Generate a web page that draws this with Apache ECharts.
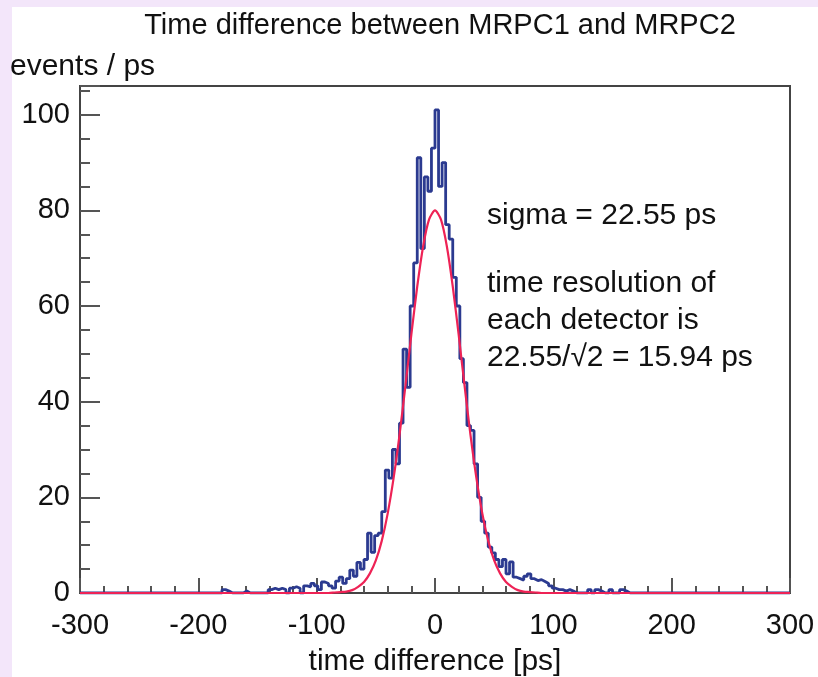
<!DOCTYPE html>
<html>
<head>
<meta charset="utf-8">
<script src="https://cdn.jsdelivr.net/npm/echarts@6/dist/echarts.min.js"></script>
<style>
  html, body { margin: 0; padding: 0; background: #f3e6fa; }
  #chart { width: 818px; height: 677px; }
</style>
</head>
<body>
<div id="chart"></div>
<script>
// histogram: 3 ps bins from -180 to 180 ps, events / ps
const binStart = -180
const binWidth = 3
const counts = [
  0.7, 0.4, 0, 0, 0, 0, 0.4, 0, 0, 0,
  0, 0, 0, 0.7, 1.0, 0.7, 1.0, 0.7, 0, 1.0,
  1.3, 1.0, 0, 1.5, 1.3, 2.0, 1.5, 0.7, 2.3, 2.0,
  1.5, 1.0, 2.5, 3.3, 2.0, 3.0, 4.8, 3.5, 6.4, 5.0,
  7.0, 12.5, 8.5, 12.0, 12.5, 17.0, 25.7, 24.0, 30.0, 27.0,
  35.5, 51.0, 43.0, 60.0, 69.0, 91.0, 72.0, 87.0, 84.0, 93.0,
  101.0, 85.0, 90.0, 77.0, 74.0, 66.0, 60.0, 49.0, 44.0, 35.0,
  34.0, 27.0, 20.0, 15.0, 12.5, 9.6, 8.4, 7.0, 5.5, 7.0,
  4.0, 6.5, 3.3, 3.0, 2.7, 3.5, 4.0, 3.0, 2.6, 2.8,
  2.4, 2.0, 1.5, 1.0, 0.7, 0.7, 0.4, 0.7, 0.4, 0,
  0, 0, 0, 0.7, 0, 0.7, 0.4, 0, 0, 0.7,
  0, 0, 0.7, 0.4, 0, 0, 0, 0, 0, 0
]

// gaussian fit (ps, events / ps)
const fitX = [-300, -90, -85, -80, -75, -70, -65, -60, -55, -50, -45, -40, -35, -30, -25, -20, -15, -10, -5,
  0, 5, 10, 15, 20, 25, 30, 35, 40, 45, 50, 55, 60, 65, 70, 75, 80, 85, 90, 300]
const fitY = [0, 0, 0.1, 0.2, 0.3, 0.6, 1.3, 2.3, 4.1, 6.8, 10.9, 16.6, 24.0, 33.0, 43.3, 54.0, 64.1, 72.5, 78.1,
  80.0, 78.1, 72.5, 64.1, 54.0, 43.3, 33.0, 24.0, 16.6, 10.9, 6.8, 4.1, 2.3, 1.3, 0.6, 0.3, 0.2, 0.1, 0, 0]

const xTicks = [-300, 300, 100]
const yTicks = [0, 106, 20]
const notes = ['sigma = 22.55 ps', 'time resolution of', 'each detector is', '22.55/\u221a2 = 15.94 ps']

const FONT = '"Liberation Sans", Arial, Helvetica, sans-serif'

let hist = [[-300, 0]]
counts.forEach((c, i) => hist.push([binStart + i * binWidth, c]))
hist.push([binStart + counts.length * binWidth, 0])
hist.push([300, 0])

const fit = fitX.map((x, i) => [x, fitY[i]])

const chart = echarts.init(document.getElementById('chart'))
chart.setOption({
  backgroundColor: '#f3e6fa',
  animation: false,
  title: {
    text: 'Time difference between MRPC1 and MRPC2',
    left: 435,
    top: 6,
    textAlign: 'center',
    textStyle: { fontFamily: FONT, fontSize: 29, fontWeight: 'normal', color: '#111' }
  },
  graphic: [
    { type: 'rect', z: -10, shape: { x: 12, y: 7, width: 806, height: 670 }, style: { fill: '#ffffff' } },
    { type: 'text', x: 10, y: 67, style: { text: 'events / ps', font: '30px ' + FONT, fill: '#111', verticalAlign: 'middle' } },
    { type: 'text', x: 487, y: 216, style: { text: notes[0], font: '30px ' + FONT, fill: '#111', verticalAlign: 'middle' } },
    { type: 'text', x: 487, y: 284, style: { text: notes[1], font: '30px ' + FONT, fill: '#111', verticalAlign: 'middle' } },
    { type: 'text', x: 487, y: 321, style: { text: notes[2], font: '30px ' + FONT, fill: '#111', verticalAlign: 'middle' } },
    { type: 'text', x: 487, y: 358, style: { text: notes[3], font: '30px ' + FONT, fill: '#111', verticalAlign: 'middle' } }
  ],
  grid: {
    left: 80,
    right: 28,
    top: 86,
    bottom: 84,
    outerBoundsMode: 'none',
    show: true,
    borderColor: '#444',
    borderWidth: 2,
    backgroundColor: 'transparent'
  },
  xAxis: {
    type: 'value',
    min: xTicks[0],
    max: xTicks[1],
    interval: xTicks[2],
    name: 'time difference [ps]',
    nameLocation: 'middle',
    nameGap: 54,
    nameTextStyle: { fontFamily: FONT, fontSize: 30, color: '#111' },
    axisLine: { show: true, onZero: false, lineStyle: { color: '#444', width: 2 } },
    axisTick: { inside: true, length: 15, lineStyle: { color: '#555', width: 2 } },
    minorTick: { show: true, splitNumber: 5, length: 7, lineStyle: { color: '#555', width: 2 } },
    axisLabel: { margin: 18, fontFamily: FONT, fontSize: 29, color: '#111' },
    splitLine: { show: false }
  },
  yAxis: [{
    type: 'value',
    min: yTicks[0],
    max: yTicks[1],
    interval: yTicks[2],
    axisLine: { show: true, onZero: false, lineStyle: { color: '#444', width: 2 } },
    axisTick: { inside: true, length: 20, lineStyle: { color: '#555', width: 2 } },
    axisLabel: {
      margin: 10, fontFamily: FONT, fontSize: 29, color: '#111',
      formatter: v => (v % 20 === 0 ? String(v) : '')
    },
    splitLine: { show: false }
  }, {
    type: 'value',
    position: 'left',
    min: yTicks[0],
    max: yTicks[1],
    interval: 5,
    axisLine: { show: false, onZero: false },
    axisTick: { inside: true, length: 10, lineStyle: { color: '#555', width: 2 } },
    axisLabel: { show: false },
    splitLine: { show: false }
  }],
  series: [{
    name: 'events',
    type: 'line',
    step: 'end',
    data: hist,
    symbol: 'none',
    clip: true,
    lineStyle: { color: '#2b3a90', width: 2.8 },
    z: 3
  }, {
    name: 'fit',
    type: 'line',
    data: fit,
    symbol: 'none',
    smooth: 0.25,
    clip: true,
    lineStyle: { color: '#ee2255', width: 2.2 },
    z: 4
  }]
})
</script>
</body>
</html>
